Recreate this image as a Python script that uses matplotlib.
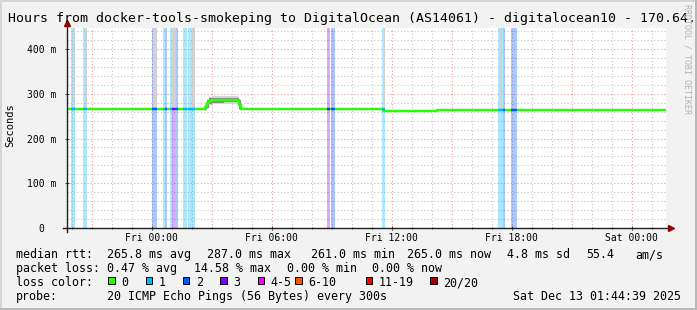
import numpy as np
import matplotlib.pyplot as plt
from matplotlib.patches import Rectangle

W, H = 697, 310
MONO = 'DejaVu Sans Mono'

# time axis in hours relative to Fri 00:00
tick_hours = [0, 6, 12, 18, 24]
tick_labels = ['Fri 00:00', 'Fri 06:00', 'Fri 12:00', 'Fri 18:00', 'Sat 00:00']
ytick_vals = [0, 100, 200, 300, 400]
ytick_labels = ['0  ', '100 m', '200 m', '300 m', '400 m']

# median rtt (ms), step series: value holds from med_t[i] to med_t[i+1]
med_t = [-4.24, -0.05, 0.3, 0.95, 1.35, 2.65, 2.75, 2.85, 3.0, 3.6, 4.3, 4.38, 4.45, 11.55, 14.25, 25.67]
med_v = [265, 266.5, 265, 266, 265, 271, 280, 284, 286, 287, 285, 275, 265, 261, 264.5, 264.5]

# smoke around the bump
smoke_t = [2.65, 2.75, 2.85, 3.0, 3.6, 4.3, 4.38, 4.45]
smoke_lo = [262, 266, 274, 277, 278, 276, 264, 263]
smoke_hi = [278, 288, 293, 294, 294, 293, 288, 267]

# packet loss periods (count of lost pings out of 20)
loss_start = [-4.035, -3.45, 0.0, 0.565, 0.665, 0.915, 1.015, 1.165, 1.55, 1.815, 8.78, 8.95, 11.5, 17.315, 17.58, 17.95]
loss_end = [-3.835, -3.22, 0.25, 0.665, 0.765, 1.015, 1.165, 1.315, 1.75, 2.165, 8.915, 9.165, 11.65, 17.58, 17.665, 18.25]
loss_lvl = [1, 1, 2, 1, 2, 1, 3, 2, 1, 1, 3, 2, 1, 1, 2, 2]

# high rtt smoke reaching the top of the graph
spike_start = [-3.935, -3.32, 0.05, 1.015, 2.0, 11.6, 17.4]
spike_end = [-3.835, -3.22, 0.25, 1.2, 2.165, 11.665, 17.5]

loss_colors = {0: '#26ff00', 1: '#00b8ff', 2: '#0059ff', 3: '#7e00ff'}
legend_labels = ['0', '1', '2', '3', '4-5', '6-10', '11-19', '20/20']
legend_colors = ['#26ff00', '#00b8ff', '#0059ff', '#7e00ff', '#ff00ff', '#ff5500', '#ff0000', '#a10000']
legend_x = [108.3, 145.7, 182.7, 220, 257.7, 295, 365.7, 430.3]

# legend rows: (x pixel, text)
row_median = [(16, 'median rtt:'), (107, '265.8 ms avg'), (207, '287.0 ms max'), (311, '261.0 ms min'),
              (407, '265.0 ms now'), (507, '4.8 ms sd'), (586, '55.4'), (635, 'am/s')]
row_loss = [(16, 'packet loss:'), (107, '0.47 % avg'), (194, '14.58 % max'), (287, '0.00 % min'),
            (372, '0.00 % now')]
row_color = [(16, 'loss color:')]
row_probe = [(16, 'probe:'), (107, '20 ICMP Echo Pings (56 Bytes) every 300s')]


def fx(x):
    return x / W


def fy(y):
    return 1 - y / H


def med_at(t):
    i = np.searchsorted(med_t, t, side='right') - 1
    return med_v[max(0, min(i, len(med_v) - 1))]


fig = plt.figure(figsize=(W / 100, H / 100), dpi=100, facecolor='#f2f2f2')
ax = fig.add_axes([fx(67), fy(228), (666 - 67) / W, 200 / H])
ax.set_facecolor('white')
ax.set_xlim(-4.235, 25.72)
ax.set_ylim(0, 447)

# grid
for h in range(-4, 26):
    c = '#e8a0a0' if h % 3 == 0 else '#c4c4c4'
    ax.axvline(h, color=c, lw=0.8, ls=(0, (1, 2)), zorder=0)
for v in range(20, 447, 20):
    c = '#e8a0a0' if v % 100 == 0 else '#c4c4c4'
    ax.axhline(v, color=c, lw=0.8, ls=(0, (1, 2)), zorder=0)

# loss bars
for s, e, l in zip(loss_start, loss_end, loss_lvl):
    ax.axvspan(s, e, color=loss_colors[l], alpha=0.33, lw=0, zorder=1)

# smoke
for s, e in zip(spike_start, spike_end):
    m = med_at(s)
    ax.fill_between([s, e], [m, m], [447, 447], color='#d0d0d0', lw=0, zorder=2)
ax.fill_between(smoke_t, smoke_lo, smoke_hi, step='post', color='#d4d4d4', lw=0, zorder=2)
ax.fill_between(smoke_t, np.array(smoke_lo) + 3, np.array(smoke_hi) - 3, step='post',
                color='#8a8a8a', lw=0, zorder=2)

# median line
ax.step(med_t, med_v, where='post', color=loss_colors[0], lw=1.7, zorder=3)
for s, e, l in zip(loss_start, loss_end, loss_lvl):
    m = med_at(s)
    ax.plot([s, e], [m, m], color=loss_colors[l], lw=1.7, solid_capstyle='butt', zorder=4)

# axes
for sp in ax.spines.values():
    sp.set_visible(False)
ax.plot([-4 / 599, 1.007], [0, 0], color='#202020', lw=1, transform=ax.transAxes, clip_on=False, zorder=5)
ax.plot([0, 0], [-4 / 200, 1.02], color='#202020', lw=1, transform=ax.transAxes, clip_on=False, zorder=5)
ax.plot([1.009], [0], marker='>', ms=4, color='#8b0000', transform=ax.transAxes, clip_on=False, zorder=6)
ax.plot([0], [1.025], marker='^', ms=4, color='#8b0000', transform=ax.transAxes, clip_on=False, zorder=6)

ax.set_xticks(tick_hours)
ax.set_xticklabels(tick_labels, family=MONO, fontsize=7)
ax.set_xticks(range(-4, 26), minor=True)
ax.set_yticks(ytick_vals)
ax.set_yticklabels(ytick_labels, family=MONO, fontsize=7)
ax.tick_params(axis='x', which='major', length=3, direction='inout', color='#404040', pad=2)
ax.tick_params(axis='x', which='minor', length=2, direction='inout', color='#404040')
ax.tick_params(axis='y', which='major', length=3, direction='inout', color='#404040', pad=6)

# texts
fig.text(fx(8), fy(18.5), 'Hours from docker-tools-smokeping to DigitalOcean (AS14061) - digitalocean10 - 170.64.',
         family=MONO, fontsize=9.5, va='center', ha='left')
fig.text(fx(10), fy(125), 'Seconds', rotation=90, family=MONO, fontsize=7.5, va='center', ha='center')
fig.text(fx(687.5), fy(4), 'RRDTOOL / TOBI OETIKER', rotation=270, family=MONO, fontsize=6,
         color='#b4b4b4', va='top', ha='center')

fs = 8.4
for i, row in enumerate([row_median, row_loss, row_color, row_probe]):
    for x0, txt in row:
        fig.text(fx(x0), fy(258 + 14 * i), txt, family=MONO, fontsize=fs, va='baseline', ha='left')
fig.text(fx(681), fy(300), 'Sat Dec 13 01:44:39 2025', family=MONO, fontsize=fs, va='baseline', ha='right')

for x0, lab, c in zip(legend_x, legend_labels, legend_colors):
    fig.patches.append(Rectangle((fx(x0), fy(284)), 6.7 / W, 6.7 / H, transform=fig.transFigure,
                                 facecolor=c, edgecolor='black', lw=0.7))
    fig.text(fx(x0 + 13), fy(286), lab, family=MONO, fontsize=fs, va='baseline', ha='left')

# frame shading
fig.patches.append(Rectangle((0, 1 - 2 / H), 1, 2 / H, transform=fig.transFigure, facecolor='#d6d6d6', lw=0))
fig.patches.append(Rectangle((0, 0), 2 / W, 1, transform=fig.transFigure, facecolor='#d6d6d6', lw=0))
fig.patches.append(Rectangle((0, 0), 1, 2 / H, transform=fig.transFigure, facecolor='#b8b8b8', lw=0))
fig.patches.append(Rectangle((1 - 2 / W, 0), 2 / W, 1, transform=fig.transFigure, facecolor='#b8b8b8', lw=0))

fig.savefig('out.png', dpi=100, facecolor=fig.get_facecolor())
